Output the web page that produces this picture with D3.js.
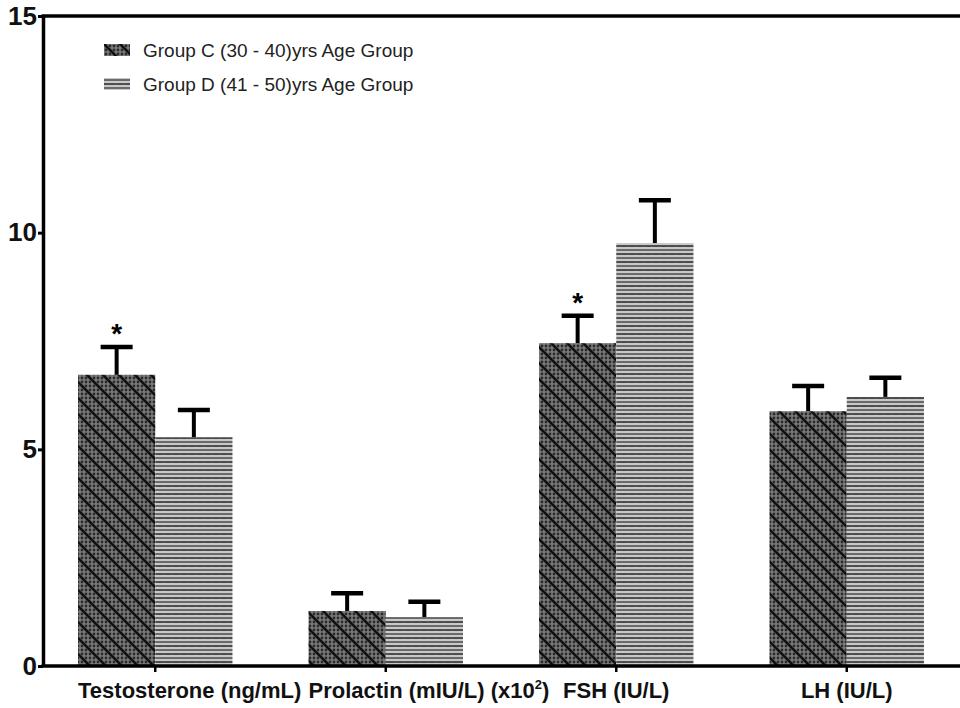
<!DOCTYPE html>
<html>
<head>
<meta charset="utf-8">
<script src="https://cdn.jsdelivr.net/npm/d3@7"></script>
<style>
  body { margin: 0; background: #fff; }
  svg { display: block; font-family: "Liberation Sans", Arial, sans-serif; }
</style>
</head>
<body>
<div class="chart"></div>
<script>
var categories = ["Testosterone", "Prolactin", "FSH", "LH"];
var groups = ["Group C (30 - 40)yrs Age Group", "Group D (41 - 50)yrs Age Group"];
var groupC = [6.72, 1.27, 7.45, 5.88];
var groupD = [5.28, 1.13, 9.76, 6.21];
var errC = [0.64, 0.41, 0.63, 0.58];
var errD = [0.63, 0.35, 0.99, 0.44];
var starC = [true, false, true, false];
var yTicks = [0, 5, 10, 15];

document.addEventListener("DOMContentLoaded", runD3)
function runD3(){
  var width = 960,
      height = 708;

  const svg = d3.select(".chart").append("svg")
    .attr("width", width)
    .attr("height", height)

  var defs = svg.append("defs")

  // hatched dark fill for group C
  var pc = defs.append("pattern")
    .attr("id", "patC")
    .attr("patternUnits", "userSpaceOnUse")
    .attr("width", 16).attr("height", 16)
  pc.append("rect").attr("width", 16).attr("height", 16).attr("fill", "#7a7a7a")
  for (var i = 0; i < 4; i++) {
    for (var j = 0; j < 4; j++) {
      pc.append("circle").attr("cx", i * 4 + 2).attr("cy", j * 4 + 2).attr("r", 1.4).attr("fill", "#2a2a2a")
    }
  }
  pc.append("path")
    .attr("d", "M-2,-2L18,18M-10,6L10,26M6,-10L26,10")
    .attr("stroke", "#111").attr("stroke-width", 2.6)

  // dotted rows for group D
  var pd = defs.append("pattern")
    .attr("id", "patD")
    .attr("patternUnits", "userSpaceOnUse")
    .attr("width", 8).attr("height", 8)
  pd.append("rect").attr("width", 8).attr("height", 8).attr("fill", "#c8c8c8")
  for (var k = 0; k < 4; k++) {
    pd.append("circle").attr("cx", k * 2 + 1).attr("cy", 2).attr("r", 1.0).attr("fill", "#4a4a4a")
    pd.append("circle").attr("cx", k * 2 + 1).attr("cy", 6).attr("r", 1.1).attr("fill", "#333")
  }

  var fills = ["url(#patC)", "url(#patD)"]

  var x = d3.scaleBand()
    .domain(categories)
    .range([40, 962])
    .paddingInner(0.33)
    .paddingOuter(0.165)

  var xSub = d3.scaleBand()
    .domain([0, 1])
    .range([0, x.bandwidth()])

  var y = d3.scaleLinear()
    .domain([0, 15])
    .range([666, 16])

  var rows = categories.map(function(c, i){
    return [
      {cat: c, g: 0, v: groupC[i], e: errC[i], star: starC[i]},
      {cat: c, g: 1, v: groupD[i], e: errD[i], star: false}
    ]
  })
  var flat = [].concat.apply([], rows)

  // bars
  svg.append("g").selectAll("rect")
    .data(flat)
    .enter()
    .append("rect")
    .attr("x", function(d){ return x(d.cat) + xSub(d.g) })
    .attr("y", function(d){ return y(d.v) })
    .attr("width", xSub.bandwidth())
    .attr("height", function(d){ return y(0) - y(d.v) })
    .attr("fill", function(d){ return fills[d.g] })

  // error bars
  var eb = svg.append("g").selectAll("g")
    .data(flat)
    .enter()
    .append("g")
    .attr("transform", function(d){ return `translate(${x(d.cat) + xSub(d.g) + xSub.bandwidth() / 2},0)` })
  eb.append("line")
    .attr("y1", function(d){ return y(d.v) })
    .attr("y2", function(d){ return y(d.v + d.e) })
    .attr("stroke", "#000").attr("stroke-width", 4)
  eb.append("line")
    .attr("x1", -16).attr("x2", 16)
    .attr("y1", function(d){ return y(d.v + d.e) })
    .attr("y2", function(d){ return y(d.v + d.e) })
    .attr("stroke", "#000").attr("stroke-width", 4.5)
  eb.filter(function(d){ return d.star })
    .append("text")
    .attr("y", function(d){ return y(d.v + d.e) - 4 })
    .attr("text-anchor", "middle")
    .attr("font-size", 28)
    .attr("font-weight", "bold")
    .text("*")

  // y axis
  var yAxis = svg.append("g")
    .attr("transform", "translate(43,0)")
    .call(d3.axisLeft(y).tickValues(yTicks).tickSize(5).tickSizeOuter(0).tickPadding(1))
  yAxis.select(".domain").attr("stroke-width", 3.5)
  yAxis.selectAll(".tick line").attr("stroke-width", 3)
  yAxis.selectAll(".tick text")
    .attr("font-size", 26).attr("font-weight", "bold")
    .attr("font-family", "Liberation Sans, Arial, sans-serif")
    .attr("fill", "#111")

  // x axis
  var xAxis = svg.append("g")
    .attr("transform", `translate(0,${y(0)})`)
    .call(d3.axisBottom(x).tickFormat("").tickSize(6).tickSizeOuter(0))
  xAxis.select(".domain").attr("d", `M41.5,0H960`).attr("stroke-width", 3.5)
  xAxis.selectAll(".tick line").attr("stroke-width", 2.5)

  // top frame line
  var top = d3.axisTop(x).tickValues([]).tickSizeOuter(0)
  var topAxis = svg.append("g")
    .attr("transform", `translate(0,${y(15)})`)
    .call(top)
  topAxis.select(".domain").attr("d", `M41.5,0H960`).attr("stroke-width", 3.5)

  // category labels
  var anchors = ["start", "start", "middle", "middle"]
  var labels = svg.append("g").selectAll("text")
    .data(categories)
    .enter()
    .append("text")
    .attr("x", function(d, i){ return anchors[i] == "start" ? x(d) : x(d) + x.bandwidth() / 2 })
    .attr("y", 698)
    .attr("text-anchor", function(d, i){ return anchors[i] })
    .attr("font-size", 22)
    .attr("font-weight", "bold")
    .attr("fill", "#111")
  labels.filter(function(d){ return d != "Prolactin" })
    .text(function(d){ return d == "Testosterone" ? "Testosterone (ng/mL)" : d + " (IU/L)" })
  var pl = labels.filter(function(d){ return d == "Prolactin" })
  pl.append("tspan").text("Prolactin (mIU/L) (x10")
  pl.append("tspan").attr("font-size", 13).attr("dy", -9).text("2")
  pl.append("tspan").attr("dy", 9).text(")")

  // legend
  var legend = svg.append("g").selectAll("g")
    .data(groups)
    .enter()
    .append("g")
    .attr("transform", function(d, i){ return `translate(104,${44 + i * 34})` })
  legend.append("rect")
    .attr("width", 26).attr("height", 12)
    .attr("fill", function(d, i){ return fills[i] })
  legend.append("text")
    .attr("x", 39).attr("y", 13)
    .attr("font-size", 19)
    .attr("fill", "#222")
    .text(function(d){ return d })
}
</script>
</body>
</html>
